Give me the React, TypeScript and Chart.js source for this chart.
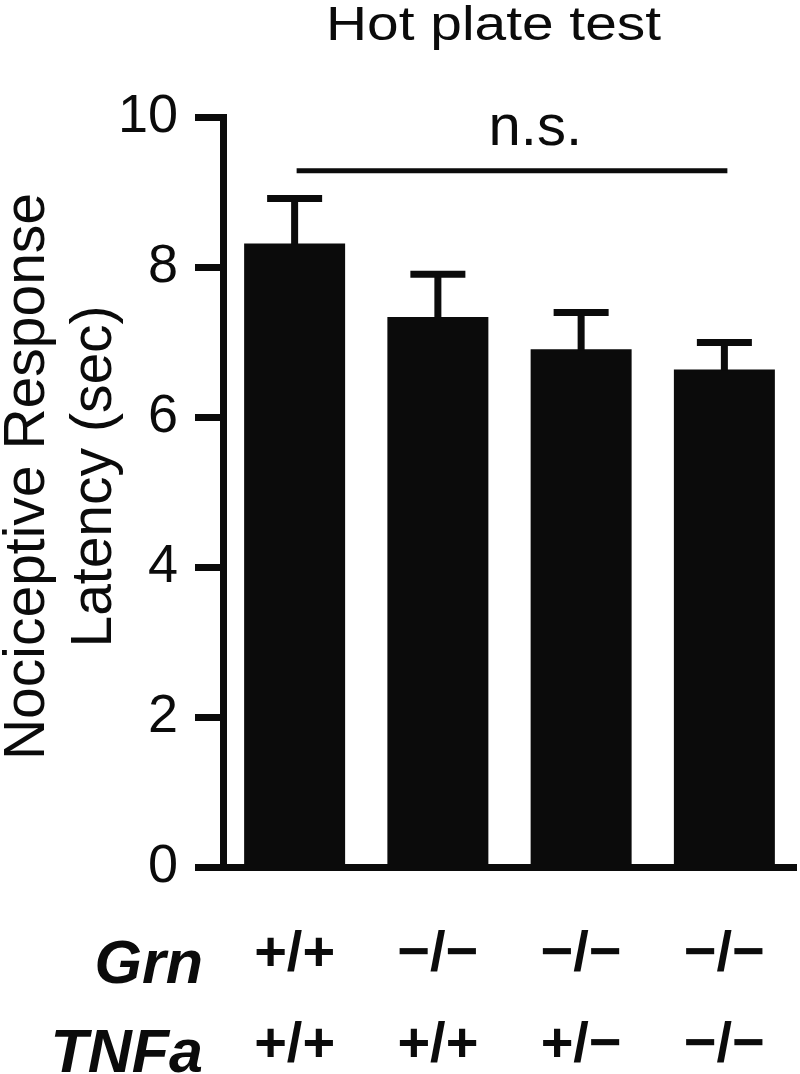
import React, { useEffect, useRef } from "react";
import { Chart, registerables } from "chart.js";

Chart.register(...registerables);

// ---- data ----
const GROUPS = ["Grn+/+ TNFa+/+", "Grn−/− TNFa+/+", "Grn−/− TNFa+/−", "Grn−/− TNFa−/−"];
const GRN_LABELS = ["+/+", "−/−", "−/−", "−/−"];
const TNF_LABELS = ["+/+", "+/+", "+/−", "−/−"];
const MEANS = [8.32, 7.34, 6.91, 6.64];
const SEMS = [0.6, 0.57, 0.49, 0.36];
const Y_MIN = 0;
const Y_MAX = 10;
const Y_STEP = 2;
const TITLE = "Hot plate test";
const Y_TITLE = ["Nociceptive Response", "Latency (sec)"];
const ROW_LABELS = ["Grn", "TNFa"];
const NS_LABEL = "n.s.";
const NS_LEVEL = 9.29;
const NS_TEXT_LEVEL = 9.63;
const NS_TEXT_POS = 1.68;

const FONT = '"Liberation Sans", Arial, Helvetica, sans-serif';
const INK = "#0b0b0b";

function drawText(
  ctx: CanvasRenderingContext2D,
  s: string,
  x: number,
  y: number,
  font: string,
  align: CanvasTextAlign,
  sx = 1,
  rot = 0
) {
  ctx.save();
  ctx.translate(x, y);
  if (rot) ctx.rotate(rot);
  ctx.scale(sx, 1);
  ctx.font = font;
  ctx.textAlign = align;
  ctx.textBaseline = "alphabetic";
  ctx.fillStyle = INK;
  ctx.fillText(s, 0, 0);
  ctx.restore();
}

const annotations = {
  id: "annotations",
  afterDatasetsDraw(chart: any) {
    const { ctx } = chart;
    const xs = chart.scales.x;
    const ys = chart.scales.y;
    ctx.save();
    ctx.fillStyle = INK;

    // error bars (upper SEM)
    MEANS.forEach((m, i) => {
      const cx = xs.getPixelForValue(i);
      const yTop = ys.getPixelForValue(m + SEMS[i]);
      const yBar = ys.getPixelForValue(m);
      ctx.fillRect(cx - 3.5, yTop, 7, yBar - yTop + 1);
      ctx.fillRect(cx - 27.5, yTop - 3.5, 55, 7);
    });

    // n.s. bracket
    const x0 = xs.getPixelForValue(0);
    const x3 = xs.getPixelForValue(MEANS.length - 1);
    const yl = ys.getPixelForValue(NS_LEVEL);
    ctx.fillRect(x0 + 2, yl - 2.5, x3 - x0 + 1, 5);
    drawText(ctx, NS_LABEL, xs.getPixelForValue(NS_TEXT_POS), ys.getPixelForValue(NS_TEXT_LEVEL), `58px ${FONT}`, "center");

    // title
    drawText(ctx, TITLE, 493.5, 40, `49px ${FONT}`, "center", 1.16);

    // y-axis title (rotated, two lines)
    const midY = (ys.top + ys.bottom) / 2 - 16;
    drawText(ctx, Y_TITLE[0], 44, midY, `57px ${FONT}`, "center", 1, -Math.PI / 2);
    drawText(ctx, Y_TITLE[1], 111, midY, `57px ${FONT}`, "center", 1, -Math.PI / 2);

    // genotype rows
    drawText(ctx, ROW_LABELS[0], 203, 983, `italic bold 61px ${FONT}`, "right");
    drawText(ctx, ROW_LABELS[1], 203, 1072, `italic bold 61px ${FONT}`, "right");
    GRN_LABELS.forEach((s, i) => {
      drawText(ctx, s, xs.getPixelForValue(i), 970, `bold 56px ${FONT}`, "center");
    });
    TNF_LABELS.forEach((s, i) => {
      drawText(ctx, s, xs.getPixelForValue(i), 1061, `bold 56px ${FONT}`, "center");
    });

    ctx.restore();
  },
};

export default function App() {
  const canvasRef = useRef<HTMLCanvasElement | null>(null);

  useEffect(() => {
    const canvas = canvasRef.current;
    if (!canvas) return;
    const chart = new Chart(canvas, {
      type: "bar",
      data: {
        labels: GROUPS,
        datasets: [
          {
            data: MEANS,
            backgroundColor: INK,
            borderWidth: 0,
            barPercentage: 0.705,
            categoryPercentage: 1,
          },
        ],
      },
      options: {
        animation: false,
        responsive: false,
        devicePixelRatio: 1,
        layout: { padding: { top: 117.5, right: 4, bottom: 0, left: 0 } },
        plugins: {
          legend: { display: false },
          tooltip: { enabled: false },
          title: { display: false },
        },
        scales: {
          x: {
            type: "category",
            grid: { display: false, drawTicks: false },
            border: { display: true, color: INK, width: 7 },
            ticks: { display: false },
            afterFit: (scale: any) => {
              scale.height = 1074 - 867.5;
            },
          },
          y: {
            type: "linear",
            min: Y_MIN,
            max: Y_MAX,
            grid: {
              drawOnChartArea: false,
              drawTicks: true,
              tickLength: 28,
              tickWidth: 7,
              color: INK,
              lineWidth: 7,
            },
            border: { display: true, color: INK, width: 7 },
            ticks: {
              stepSize: Y_STEP,
              padding: 17,
              color: INK,
              font: { family: FONT, size: 54 },
            },
            afterFit: (scale: any) => {
              scale.width = 223;
            },
          },
        },
      },
      plugins: [annotations],
    });
    return () => chart.destroy();
  }, []);

  return (
    <div style={{ position: "absolute", left: 0, top: 0, width: 800, height: 1074, background: "#fff" }}>
      <canvas ref={canvasRef} width={800} height={1074} style={{ display: "block" }} />
    </div>
  );
}
